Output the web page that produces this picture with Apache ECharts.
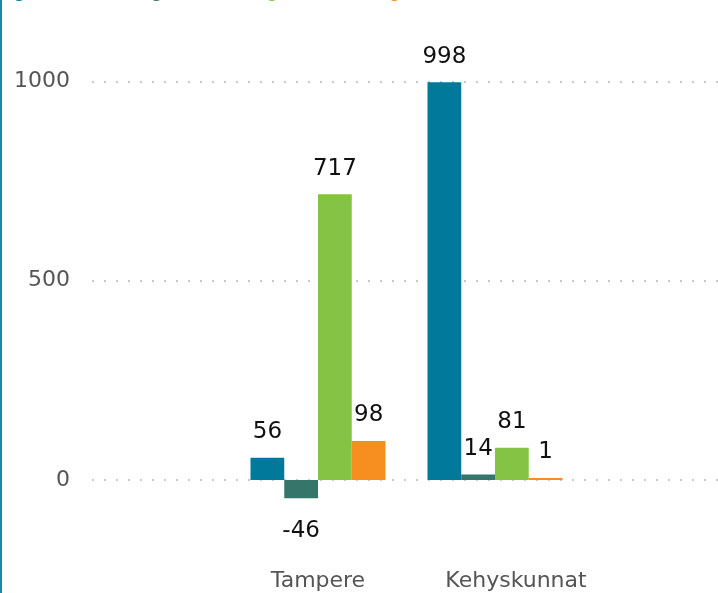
<!DOCTYPE html>
<html>
<head>
<meta charset="utf-8">
<script src="https://cdn.jsdelivr.net/npm/echarts@6/dist/echarts.min.js"></script>
<style>
  html, body { margin: 0; padding: 0; background: #fff; }
  #chart { width: 718px; height: 593px; }
</style>
</head>
<body>
<div id="chart"></div>
<script>
// data
const categories = ['Tampere', 'Kehyskunnat']
const seriesNames = ['Kuntien välinen nettomuutto', 'Syntyneiden enemmyys', 'Nettomaahanmuutto', 'Korjaus']
const seriesColors = ['#00799b', '#36766a', '#84c343', '#f68e20']
const values = [
  [56, 998],
  [-46, 14],
  [717, 81],
  [98, 1]
]
const yTicks = [0, 500, 1000]

const font = 'DejaVu Sans'
const myChart = echarts.init(document.getElementById('chart'))

const series = values.map((vals, i) => ({
  name: seriesNames[i],
  type: 'bar',
  xAxisIndex: 1,
  yAxisIndex: 1,
  barWidth: 33.75,
  barGap: '0%',
  barMinHeight: 2,
  color: seriesColors[i],
  label: {
    show: true,
    position: 'top',
    distance: 14,
    color: '#111',
    fontSize: 23,
    fontFamily: font
  },
  // negatives get their label below the bar
  data: vals.map(v => v < 0 ? { value: v, label: { position: 'bottom', distance: 21 } } : v)
}))

// legend text boxes (text itself is cut off above the picture)
const legendWidths = [112, 89, 102, 80]

const option = {
  animation: false,
  legend: {
    top: -18,
    left: 7,
    icon: 'circle',
    itemWidth: 14,
    itemHeight: 14,
    itemGap: 10,
    textStyle: { fontFamily: font, fontSize: 12, color: '#333' },
    data: seriesNames.map((n, i) => ({ name: n, textStyle: { width: legendWidths[i], overflow: 'truncate' } }))
  },
  graphic: [
    { type: 'rect', left: 0, top: 0, shape: { width: 2, height: 593 }, style: { fill: '#1a87a8' } }
  ],
  grid: [
    // background grid: y labels and dotted lines
    { left: 92, right: -20, top: 81.5, height: 398.5 },
    // bar grid, same scale
    { left: 229.5, width: 354, top: 81.5, height: 478.2 }
  ],
  xAxis: [
    { gridIndex: 0, type: 'value', show: false },
    {
      gridIndex: 1,
      type: 'category',
      data: categories.map((c, i) => i === 1 ? { value: c, textStyle: { padding: [0, 0, 0, 42] } } : c),
      axisLine: { show: false },
      axisTick: { show: false },
      axisLabel: { color: '#555', fontSize: 22, fontFamily: font, margin: 11, interval: 0, hideOverlap: false }
    }
  ],
  yAxis: [
    {
      gridIndex: 0,
      type: 'value',
      min: yTicks[0],
      max: yTicks[yTicks.length - 1],
      interval: yTicks[1] - yTicks[0],
      axisLine: { show: false },
      axisTick: { show: false },
      axisLabel: { color: '#555', fontSize: 22, fontFamily: font, margin: 22, formatter: v => String(v) },
      splitLine: { lineStyle: { color: '#c8c8c8', width: 2, type: [2, 10] } }
    },
    {
      gridIndex: 1,
      type: 'value',
      min: -200,
      max: 1000,
      show: false,
      splitLine: { show: false }
    }
  ],
  series: series
}

myChart.setOption(option)
window.addEventListener('resize', function () {
  myChart.resize()
})
</script>
</body>
</html>
